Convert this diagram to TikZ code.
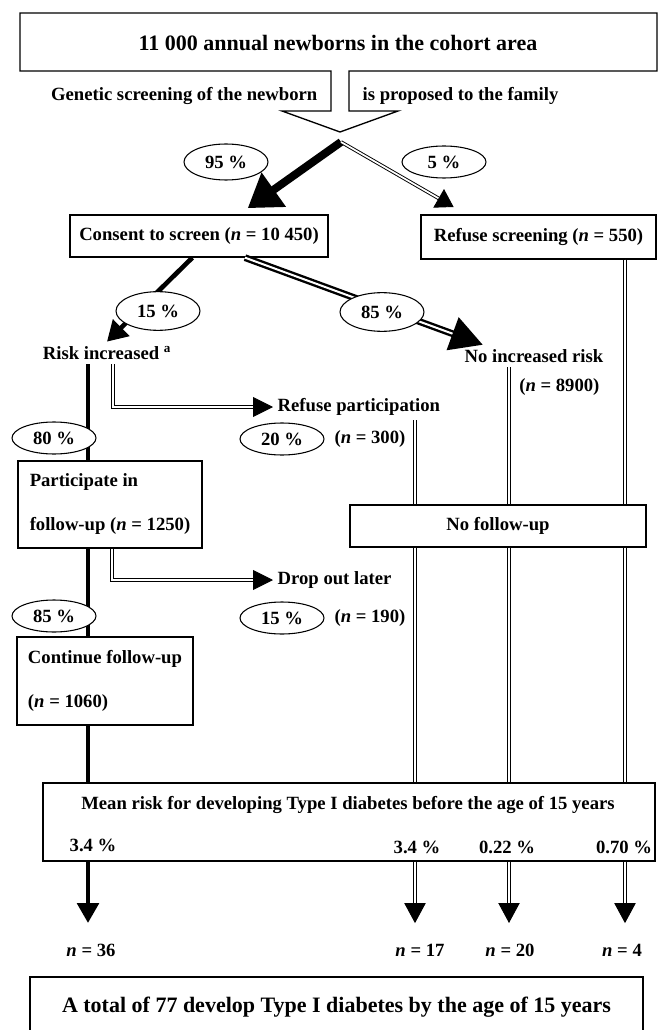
\documentclass[tikz,border=0pt]{standalone}
\usepackage{fontspec}
\setmainfont{Liberation Serif}
\usetikzlibrary{arrows.meta,positioning,shapes.geometric}

\begin{document}
\begin{tikzpicture}[
    x=0.75pt, y=-0.75pt,
    font=\bfseries\fontsize{14}{16}\selectfont,
    box/.style={rectangle, draw, line width=1pt, inner sep=0pt},
    pct/.style={ellipse, draw, fill=white, line width=0.8pt, minimum width=63pt, minimum height=24pt, inner sep=0pt},
    bigtext/.style={font=\bfseries\fontsize{16.5}{19}\selectfont},
    thickline/.style={draw, line width=3.5pt},
    dblline/.style={draw, line width=0.7pt, double, double distance=1.3pt},
    dblthick/.style={draw, line width=1.8pt, double, double distance=1.5pt},
    downhead/.style={-{Triangle[length=15pt, width=16pt]}},
    sidehead/.style={-{Triangle[length=15pt, width=15pt]}}
]
\useasboundingbox (0,0) rectangle (659,1030);

% Define nodes
\draw[line width=1pt] (20,13) -- (657,13) -- (657,71) -- (349,71) -- (349,111) -- (398,111)
    -- (340,132) -- (282,111) -- (331,111) -- (331,71) -- (20,71) -- cycle;
\node[bigtext] (cohort) at (338,43) {11 000 annual newborns in the cohort area};
\node[anchor=east] (genetic) at (322,96) {Genetic screening of the newborn};
\node[anchor=west] (proposed) at (358,96) {is proposed to the family};
\coordinate (split) at (341,142);

\node[box, minimum width=193.5pt, minimum height=31.5pt] (consent) at (199,236) {Consent to screen (\textit{n} = 10 450)};
\node[box, minimum width=176.25pt, minimum height=33pt] (refuse) at (538.5,237) {Refuse screening (\textit{n} = 550)};

\node (risk) at (107,353) {Risk increased \textsuperscript{a}};
\node (norisk) at (534,356) {No increased risk};
\node[below=5pt of norisk, xshift=19pt] (norisknum) {(\textit{n} = 8900)};
\node[anchor=west] (refpart) at (273,407) {Refuse participation};

\node[box, minimum width=138pt, minimum height=65.25pt, align=left] (partic) at (110,504.5)
    {Participate in\\[17pt] follow-up (\textit{n} = 1250)};
\node[box, minimum width=222pt, minimum height=31.5pt] (nofollow) at (498,526) {No follow-up};
\node[anchor=west] (dropout) at (273,580) {Drop out later};
\node[box, minimum width=132pt, minimum height=66pt, align=left] (contin) at (105,681)
    {Continue follow-up\\[17pt] (\textit{n} = 1060)};

\node[box, minimum width=459pt, minimum height=58.5pt] (meanrisk) at (349,822) {};
\node (meantitle) at (348,805) {Mean risk for developing Type I diabetes before the age of 15 years};
\node (riska) at (93,845) {3.4 \%};
\node (riskb) at (417,847) {3.4 \%};
\node (riskc) at (507,847) {0.22 \%};
\node (riskd) at (624,847) {0.70 \%};

\node (n36) at (91,950) {\textit{n} = 36};
\node (n17) at (420,950) {\textit{n} = 17};
\node (n20) at (510,950) {\textit{n} = 20};
\node (n4) at (622,950) {\textit{n} = 4};
\node[box, bigtext, minimum width=459.75pt, minimum height=45pt] (total) at (336.5,1007)
    {A total of 77 develop Type I diabetes by the age of 15 years};

\coordinate (lane1) at (88,0);
\coordinate (lane2) at (415,0);
\coordinate (lane3) at (509,0);
\coordinate (lane4) at (625,0);

% Connect nodes
\draw[line width=6pt, -{Triangle[length=24pt, width=30pt]}, shorten >=8pt] (split) -- ([xshift=30pt]consent.north);
\draw[dblline, -{Triangle[length=13pt, width=16pt]}, shorten >=11pt] (split) -- ([xshift=34.5pt]refuse.north west);
\draw[thickline, -{Triangle[length=15pt, width=17pt]}] ([xshift=-5pt]consent.south) -- (risk.north);
\draw[dblthick, -{Triangle[length=24pt, width=26pt]}] ([xshift=34.5pt]consent.south) -- ([xshift=17pt]norisk.north west);

\draw[thickline] (risk.south -| lane1) -- (partic.north -| lane1);
\draw[thickline] (partic.south -| lane1) -- (contin.north -| lane1);
\draw[thickline] (contin.south -| lane1) -- (meanrisk.north -| lane1);
\draw[thickline, downhead, shorten >=12pt] (meanrisk.south -| lane1) -- (n36.north -| lane1);
\draw[dblline, sidehead] ([xshift=4.5pt]risk.south) |- (refpart.west);
\draw[dblline, sidehead] ([xshift=1.5pt]partic.south) |- (dropout.west);

\draw[dblline] (refpart.south -| lane2) -- (nofollow.north -| lane2);
\draw[dblline] (nofollow.south -| lane2) -- (meanrisk.north -| lane2);
\draw[dblline, downhead, shorten >=12pt] (meanrisk.south -| lane2) -- (n17.north -| lane2);
\draw[dblline] (norisk.south -| lane3) -- (nofollow.north -| lane3);
\draw[dblline] (nofollow.south -| lane3) -- (meanrisk.north -| lane3);
\draw[dblline, downhead, shorten >=12pt] (meanrisk.south -| lane3) -- (n20.north -| lane3);
\draw[dblline] (refuse.south -| lane4) -- (nofollow.north -| lane4);
\draw[dblline] (nofollow.south -| lane4) -- (meanrisk.north -| lane4);
\draw[dblline, downhead, shorten >=12pt] (meanrisk.south -| lane4) -- (n4.north -| lane4);

% Percentages
\node[pct, minimum height=27pt] (pcta) at (226,162) {95 \%};
\node[pct] (pctb) at (444,162) {5 \%};
\node[pct, minimum height=29pt] (pctc) at (158,311) {15 \%};
\node[pct, minimum height=29pt] (pctd) at (382,312) {85 \%};
\node[pct] (pcte) at (54,438) {80 \%};
\node[pct] (pctf) at (282,439) {20 \%};
\node[right=4pt of pctf] (refpartnum) {(\textit{n} = 300)};
\node[pct] (pctg) at (54,616) {85 \%};
\node[pct] (pcth) at (282,618) {15 \%};
\node[right=4pt of pcth] (dropoutnum) {(\textit{n} = 190)};

\end{tikzpicture}
\end{document}
